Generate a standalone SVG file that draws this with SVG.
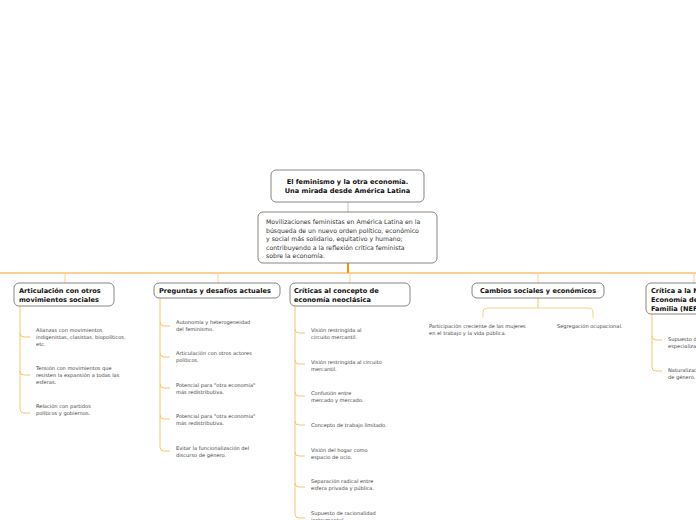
<svg xmlns="http://www.w3.org/2000/svg" width="696" height="520" viewBox="0 0 696 520">
<style>
.box{fill:#fff;stroke:#8a8580;stroke-width:1}
.t{font-family:"DejaVu Sans",Verdana,sans-serif;font-weight:bold;font-size:6.6px;fill:#111}
.d{font-family:"DejaVu Sans",Verdana,sans-serif;font-size:6.2px;fill:#333}
.i{font-family:"DejaVu Sans",Verdana,sans-serif;font-size:5.1px;fill:#444}
.main{fill:none;stroke:#f7a428;stroke-width:1.2}
.br{fill:none;stroke:#fcd08c;stroke-width:1}
.sub{fill:none;stroke:#fbc46c;stroke-width:1}
</style>
<rect width="696" height="520" fill="#fff"/>
<g id="connectors">
<line x1="348" y1="202" x2="348" y2="212" stroke="#d6d6d6" stroke-width="1.5"/>
<line x1="348" y1="263" x2="348" y2="273" stroke="#f99500" stroke-width="2"/>
<line class="main" x1="0" y1="273" x2="696" y2="273"/>
<path class="br" d="M65 273 V283"/>
<path class="br" d="M218 273 V283"/>
<path class="br" d="M350 273 V283"/>
<path class="br" d="M538 273 V283"/>
<path class="br" d="M694 273 V283"/>
<!-- Articulacion -->
<path class="sub" d="M20 306 V409 Q20 413 24 413 H30"/>
<path class="sub" d="M20 333 Q20 337 24 337 H30"/>
<path class="sub" d="M20 371 Q20 375 24 375 H30"/>
<!-- Preguntas -->
<path class="sub" d="M160 298 V447 Q160 451 164 451 H170"/>
<path class="sub" d="M160 322 Q160 326 164 326 H170"/>
<path class="sub" d="M160 353 Q160 357 164 357 H170"/>
<path class="sub" d="M160 384 Q160 388 164 388 H170"/>
<path class="sub" d="M160 415 Q160 419 164 419 H170"/>
<!-- Criticas -->
<path class="sub" d="M295 306 V514 Q295 518 299 518 H305"/>
<path class="sub" d="M295 329 Q295 333 299 333 H305"/>
<path class="sub" d="M295 360 Q295 364 299 364 H305"/>
<path class="sub" d="M295 392 Q295 396 299 396 H305"/>
<path class="sub" d="M295 421 Q295 425 299 425 H305"/>
<path class="sub" d="M295 452 Q295 456 299 456 H305"/>
<path class="sub" d="M295 483 Q295 487 299 487 H305"/>
<!-- Cambios -->
<path class="sub" d="M538 298 V308"/>
<path class="br" d="M483 318 V312 Q483 308 487 308 H589 Q593 308 593 312 V318"/>
<!-- NEF -->
<path class="sub" d="M652 314 V367 Q652 371 656 371 H662"/>
<path class="sub" d="M652 336 Q652 340 656 340 H662"/>
</g>
<g id="title">
<rect class="box" x="271" y="170" width="153" height="32" rx="5"/>
<text class="t" x="347.5" y="184" text-anchor="middle">El feminismo y la otra economía.</text>
<text class="t" x="347.5" y="193" text-anchor="middle">Una mirada desde América Latina</text>
</g>
<g id="intro">
<rect class="box" x="258" y="212" width="179" height="51" rx="5"/>
<text class="d" x="266" y="224">Movilizaciones feministas en América Latina  en la</text>
<text class="d" x="266" y="232.5">búsqueda de un nuevo orden político, económico</text>
<text class="d" x="266" y="241">y social más solidario, equitativo y humano;</text>
<text class="d" x="266" y="249.5">contribuyendo a la reflexión crítica feminista</text>
<text class="d" x="266" y="258">sobre la economía.</text>
</g>
<g id="articulacion">
<rect class="box" x="14" y="283" width="100" height="23" rx="5"/>
<text class="t" x="19" y="293">Articulación con otros</text>
<text class="t" x="19" y="302">movimientos sociales</text>
<text class="i" x="36" y="332">Alianzas con movimientos</text>
<text class="i" x="36" y="339">indigenistas, clasistas, biopolíticos,</text>
<text class="i" x="36" y="346">etc.</text>
<text class="i" x="36" y="370">Tensión con movimientos que</text>
<text class="i" x="36" y="377">resisten la expansión a todas las</text>
<text class="i" x="36" y="384">esferas.</text>
<text class="i" x="36" y="408">Relación con partidos</text>
<text class="i" x="36" y="415">políticos y gobiernos.</text>
</g>
<g id="preguntas">
<rect class="box" x="154" y="283" width="126" height="15" rx="5"/>
<text class="t" x="159" y="293">Preguntas y desafíos actuales</text>
<text class="i" x="176" y="324">Autonomía y heterogeneidad</text>
<text class="i" x="176" y="331">del feminismo.</text>
<text class="i" x="176" y="355">Articulación con otros actores</text>
<text class="i" x="176" y="362">políticos.</text>
<text class="i" x="176" y="387">Potencial para "otra economía"</text>
<text class="i" x="176" y="394">más redistributiva.</text>
<text class="i" x="176" y="418">Potencial para "otra economía"</text>
<text class="i" x="176" y="425">más redistributiva.</text>
<text class="i" x="176" y="450">Evitar la funcionalización del</text>
<text class="i" x="176" y="457">discurso de género.</text>
</g>
<g id="criticas">
<rect class="box" x="290" y="283" width="120" height="23" rx="5"/>
<text class="t" x="294" y="293">Críticas al concepto de</text>
<text class="t" x="294" y="302">economía neoclásica</text>
<text class="i" x="311" y="332">Visión restringida al</text>
<text class="i" x="311" y="339">circuito mercantil.</text>
<text class="i" x="311" y="364">Visión restringida al circuito</text>
<text class="i" x="311" y="371">mercantil.</text>
<text class="i" x="311" y="395">Confusión entre</text>
<text class="i" x="311" y="402">mercado y mercado.</text>
<text class="i" x="311" y="427">Concepto de trabajo limitado.</text>
<text class="i" x="311" y="452">Visión del hogar como</text>
<text class="i" x="311" y="459">espacio de ocio.</text>
<text class="i" x="311" y="483">Separación radical entre</text>
<text class="i" x="311" y="490">esfera privada y pública.</text>
<text class="i" x="311" y="515">Supuesto de racionalidad</text>
<text class="i" x="311" y="522">instrumental.</text>
</g>
<g id="cambios">
<rect class="box" x="472" y="283" width="132" height="15" rx="5"/>
<text class="t" x="538" y="293" text-anchor="middle">Cambios sociales y económicos</text>
<text class="i" x="429" y="328">Participación creciente de las mujeres</text>
<text class="i" x="429" y="335">en el trabajo y la vida pública.</text>
<text class="i" x="557" y="328">Segregación ocupacional.</text>
</g>
<g id="nef">
<rect class="box" x="646" y="283" width="80" height="31" rx="5"/>
<text class="t" x="651" y="293">Crítica a la Nueva</text>
<text class="t" x="651" y="302">Economía de la</text>
<text class="t" x="651" y="311">Familia (NEF)</text>
<text class="i" x="668" y="341">Supuesto de</text>
<text class="i" x="668" y="348">especialización.</text>
<text class="i" x="668" y="372">Naturalización</text>
<text class="i" x="668" y="379">de género.</text>
</g>
</svg>
